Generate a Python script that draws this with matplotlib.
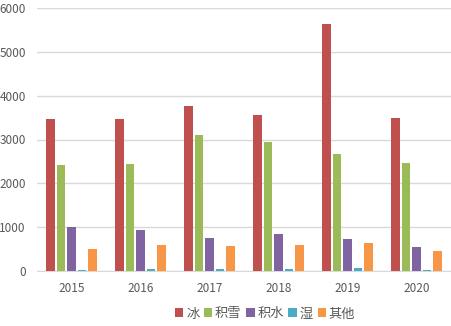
import matplotlib
matplotlib.use('Agg')
import matplotlib.pyplot as plt
import numpy as np

plt.rcParams['font.family'] = ['Noto Sans CJK SC', 'DejaVu Sans']

years = ['2015', '2016', '2017', '2018', '2019', '2020']
series = ['冰', '积雪', '积水', '湿', '其他']
ice = [3470, 3470, 3767, 3562, 5640, 3493]
snow = [2420, 2443, 3105, 2945, 2671, 2466]
water = [1005, 936, 753, 845, 730, 548]
wet = [25, 50, 50, 50, 68, 23]
other = [500, 594, 571, 594, 639, 457]
colors = ['#C0504D', '#9BBB59', '#8064A2', '#4BACC6', '#F79646']

fig = plt.figure(figsize=(4.52, 3.26), dpi=100)
ax = fig.add_axes([37 / 452, 55 / 326, 414 / 452, 263 / 326])

x = np.arange(len(years))
slot = 0.152  # spacing between bars in one group
width = 0.13
for i, (vals, name) in enumerate(zip([ice, snow, water, wet, other], series)):
    ax.bar(x + (i - 2) * slot, vals, width, color=colors[i], label=name, zorder=3)

ax.set_xlim(-0.5, len(years) - 0.5)
ax.set_ylim(0, 6000)
ax.set_yticks(range(0, 6001, 1000))
ax.set_xticks(x)
ax.set_xticklabels(years)
ax.grid(axis='y', color='#D9D9D9', linewidth=1, zorder=0)
for s in ['top', 'right', 'left']:
    ax.spines[s].set_visible(False)
ax.spines['bottom'].set_color('#D9D9D9')
ax.tick_params(axis='both', length=0, colors='#595959', labelsize=8.5)
ax.tick_params(axis='y', pad=8)
ax.tick_params(axis='x', pad=8)

ax.legend(loc='center', bbox_to_anchor=(265 / 452, 12 / 326), bbox_transform=fig.transFigure,
          ncol=5, frameon=False, fontsize=9.5, handlelength=0.65, handleheight=0.65,
          handletextpad=0.2, columnspacing=0.35, labelcolor='#595959',
          borderpad=0, borderaxespad=0)

fig.savefig('out.png', dpi=100)
